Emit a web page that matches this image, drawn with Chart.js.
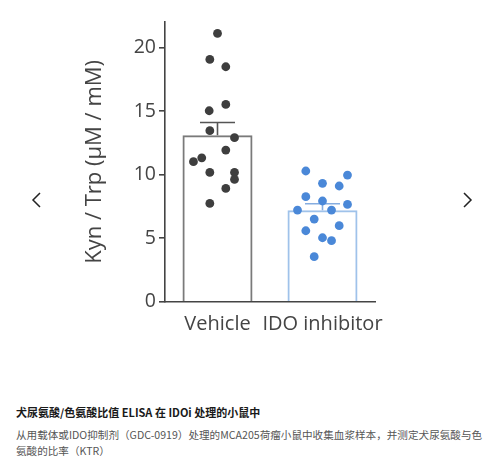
<!DOCTYPE html>
<html>
<head>
<meta charset="utf-8">
<script src="https://cdn.jsdelivr.net/npm/chart.js@4.4.1/dist/chart.umd.min.js"></script>
<style>
  html, body { margin: 0; padding: 0; background: #fff; width: 500px; height: 465px; overflow: hidden; }
  #wrap { position: absolute; left: 0; top: 0; width: 500px; height: 350px; }
  .cap-title { position: absolute; left: 16px; top: 404px; font: bold 11px/16px "Noto Sans CJK SC", "Noto Sans", sans-serif; color: #1a1a1a; white-space: nowrap; }
  .cap-body { position: absolute; left: 16px; top: 427px; font: 10.6px/16px "Noto Sans CJK SC", "Noto Sans", sans-serif; color: #555; white-space: nowrap; }
  .nav { position: absolute; top: 190px; }
</style>
</head>
<body>
<div id="wrap"><canvas id="c"></canvas></div>
<svg class="nav" style="left:30px" width="14" height="20" viewBox="0 0 14 20"><polyline points="10,3 3,10 10,17" fill="none" stroke="#222" stroke-width="1.5"/></svg>
<svg class="nav" style="left:460px" width="14" height="20" viewBox="0 0 14 20"><polyline points="4,3 11,10 4,17" fill="none" stroke="#222" stroke-width="1.5"/></svg>
<div class="cap-title">犬尿氨酸/色氨酸比值 ELISA 在 IDOi 处理的小鼠中</div>
<div class="cap-body">从用载体或IDO抑制剂（GDC-0919）处理的MCA205荷瘤小鼠中收集血浆样本，并测定犬尿氨酸与色<br>氨酸的比率（KTR）</div>
<script>
// ---- data ----
const categories = ["Vehicle", "IDO inhibitor"];
const barMeans = [13.1, 7.2];
const barSem = [1.0, 0.5];
const vehicleValues = [21.1, 19.06, 18.48, 15.52, 15.02, 13.45, 12.9, 11.93, 11.01, 11.32, 10.17, 10.17, 9.62, 8.91, 7.73];
const vehicleJitter = [0, -0.073, 0.079, 0.079, -0.079, -0.073, 0.162, 0.079, -0.229, -0.15, -0.073, 0.162, 0.162, 0.079, -0.073];
const idoValues = [10.28, 9.96, 9.31, 9.1, 8.26, 7.92, 7.21, 7.21, 7.65, 6.5, 5.58, 5.98, 5.03, 4.8, 3.54];
const idoJitter = [-0.159, 0.238, 0, 0.159, -0.159, 0, -0.238, 0.086, 0.238, -0.079, -0.159, 0.159, 0, 0.086, -0.079];
const yTicks = [0, 5, 10, 15, 20];

const FONT = '"Open Sans", "Noto Sans", sans-serif';
const TXT = '#444';
const barBorders = ['#7a7a7a', '#9fc2ea'];
const errColors = ['#555555', '#86ade0'];

const errorBars = {
  id: 'errorBars',
  afterDatasetDraw(chart, args) {
    if (args.meta.type !== 'bar') return;
    const ctx = chart.ctx, y = chart.scales.y;
    args.meta.data.forEach((bar, i) => {
      const x = bar.x, half = bar.width / 4;
      const yTop = y.getPixelForValue(barMeans[i] + barSem[i]);
      const yMid = y.getPixelForValue(barMeans[i]);
      ctx.save();
      ctx.strokeStyle = errColors[i];
      ctx.lineWidth = 1.6;
      ctx.beginPath();
      ctx.moveTo(x, yMid); ctx.lineTo(x, yTop);
      ctx.moveTo(x - half, yTop); ctx.lineTo(x + half, yTop);
      ctx.stroke();
      ctx.restore();
    });
  }
};

new Chart(document.getElementById('c'), {
  type: 'bar',
  data: {
    labels: categories,
    datasets: [
      {
        type: 'scatter', xAxisID: 'xp', order: 1,
        data: vehicleValues.map((v, i) => ({ x: 0 + vehicleJitter[i], y: v })),
        backgroundColor: '#3e3e3e', borderWidth: 0, pointRadius: 4.4
      },
      {
        type: 'scatter', xAxisID: 'xp', order: 1,
        data: idoValues.map((v, i) => ({ x: 1 + idoJitter[i], y: v })),
        backgroundColor: '#4a88d8', borderWidth: 0, pointRadius: 4.4
      },
      {
        type: 'bar', xAxisID: 'x', order: 2, grouped: false,
        data: barMeans,
        backgroundColor: 'rgba(255,255,255,0)',
        borderColor: barBorders,
        borderWidth: 2,
        barPercentage: 0.667, categoryPercentage: 1
      }
    ]
  },
  options: {
    responsive: true, maintainAspectRatio: false, animation: false,
    layout: { padding: { left: 78, right: 125, top: 22, bottom: 0 } },
    plugins: { legend: { display: false }, tooltip: { enabled: false } },
    scales: {
      x: {
        type: 'category', offset: true,
        grid: { display: false, drawTicks: false },
        border: { display: true, color: TXT, width: 1.6 },
        ticks: { color: TXT, padding: 11, maxRotation: 0, minRotation: 0, autoSkip: false, font: { family: FONT, size: 20 } },
        afterFit: s => { s.height = 48.3; }
      },
      xp: { type: 'linear', min: -0.5, max: 1.5, offset: false, display: false, grid: { offset: false } },
      y: {
        min: 0, max: 22,
        afterBuildTicks: s => { s.ticks = yTicks.map(v => ({ value: v })); },
        grid: { display: true, drawOnChartArea: false, drawTicks: true, tickLength: 6, color: TXT, lineWidth: 1.6 },
        border: { display: true, color: TXT, width: 1.6 },
        ticks: { color: TXT, padding: 3, font: { family: FONT, size: 19.5 } },
        title: { display: true, text: 'Kyn / Trp (μM / mM)', color: TXT, font: { family: FONT, size: 22 }, padding: { top: 4, bottom: 4 } },
        afterFit: s => { s.width = 87; }
      }
    }
  },
  plugins: [errorBars]
});
</script>
</body>
</html>
